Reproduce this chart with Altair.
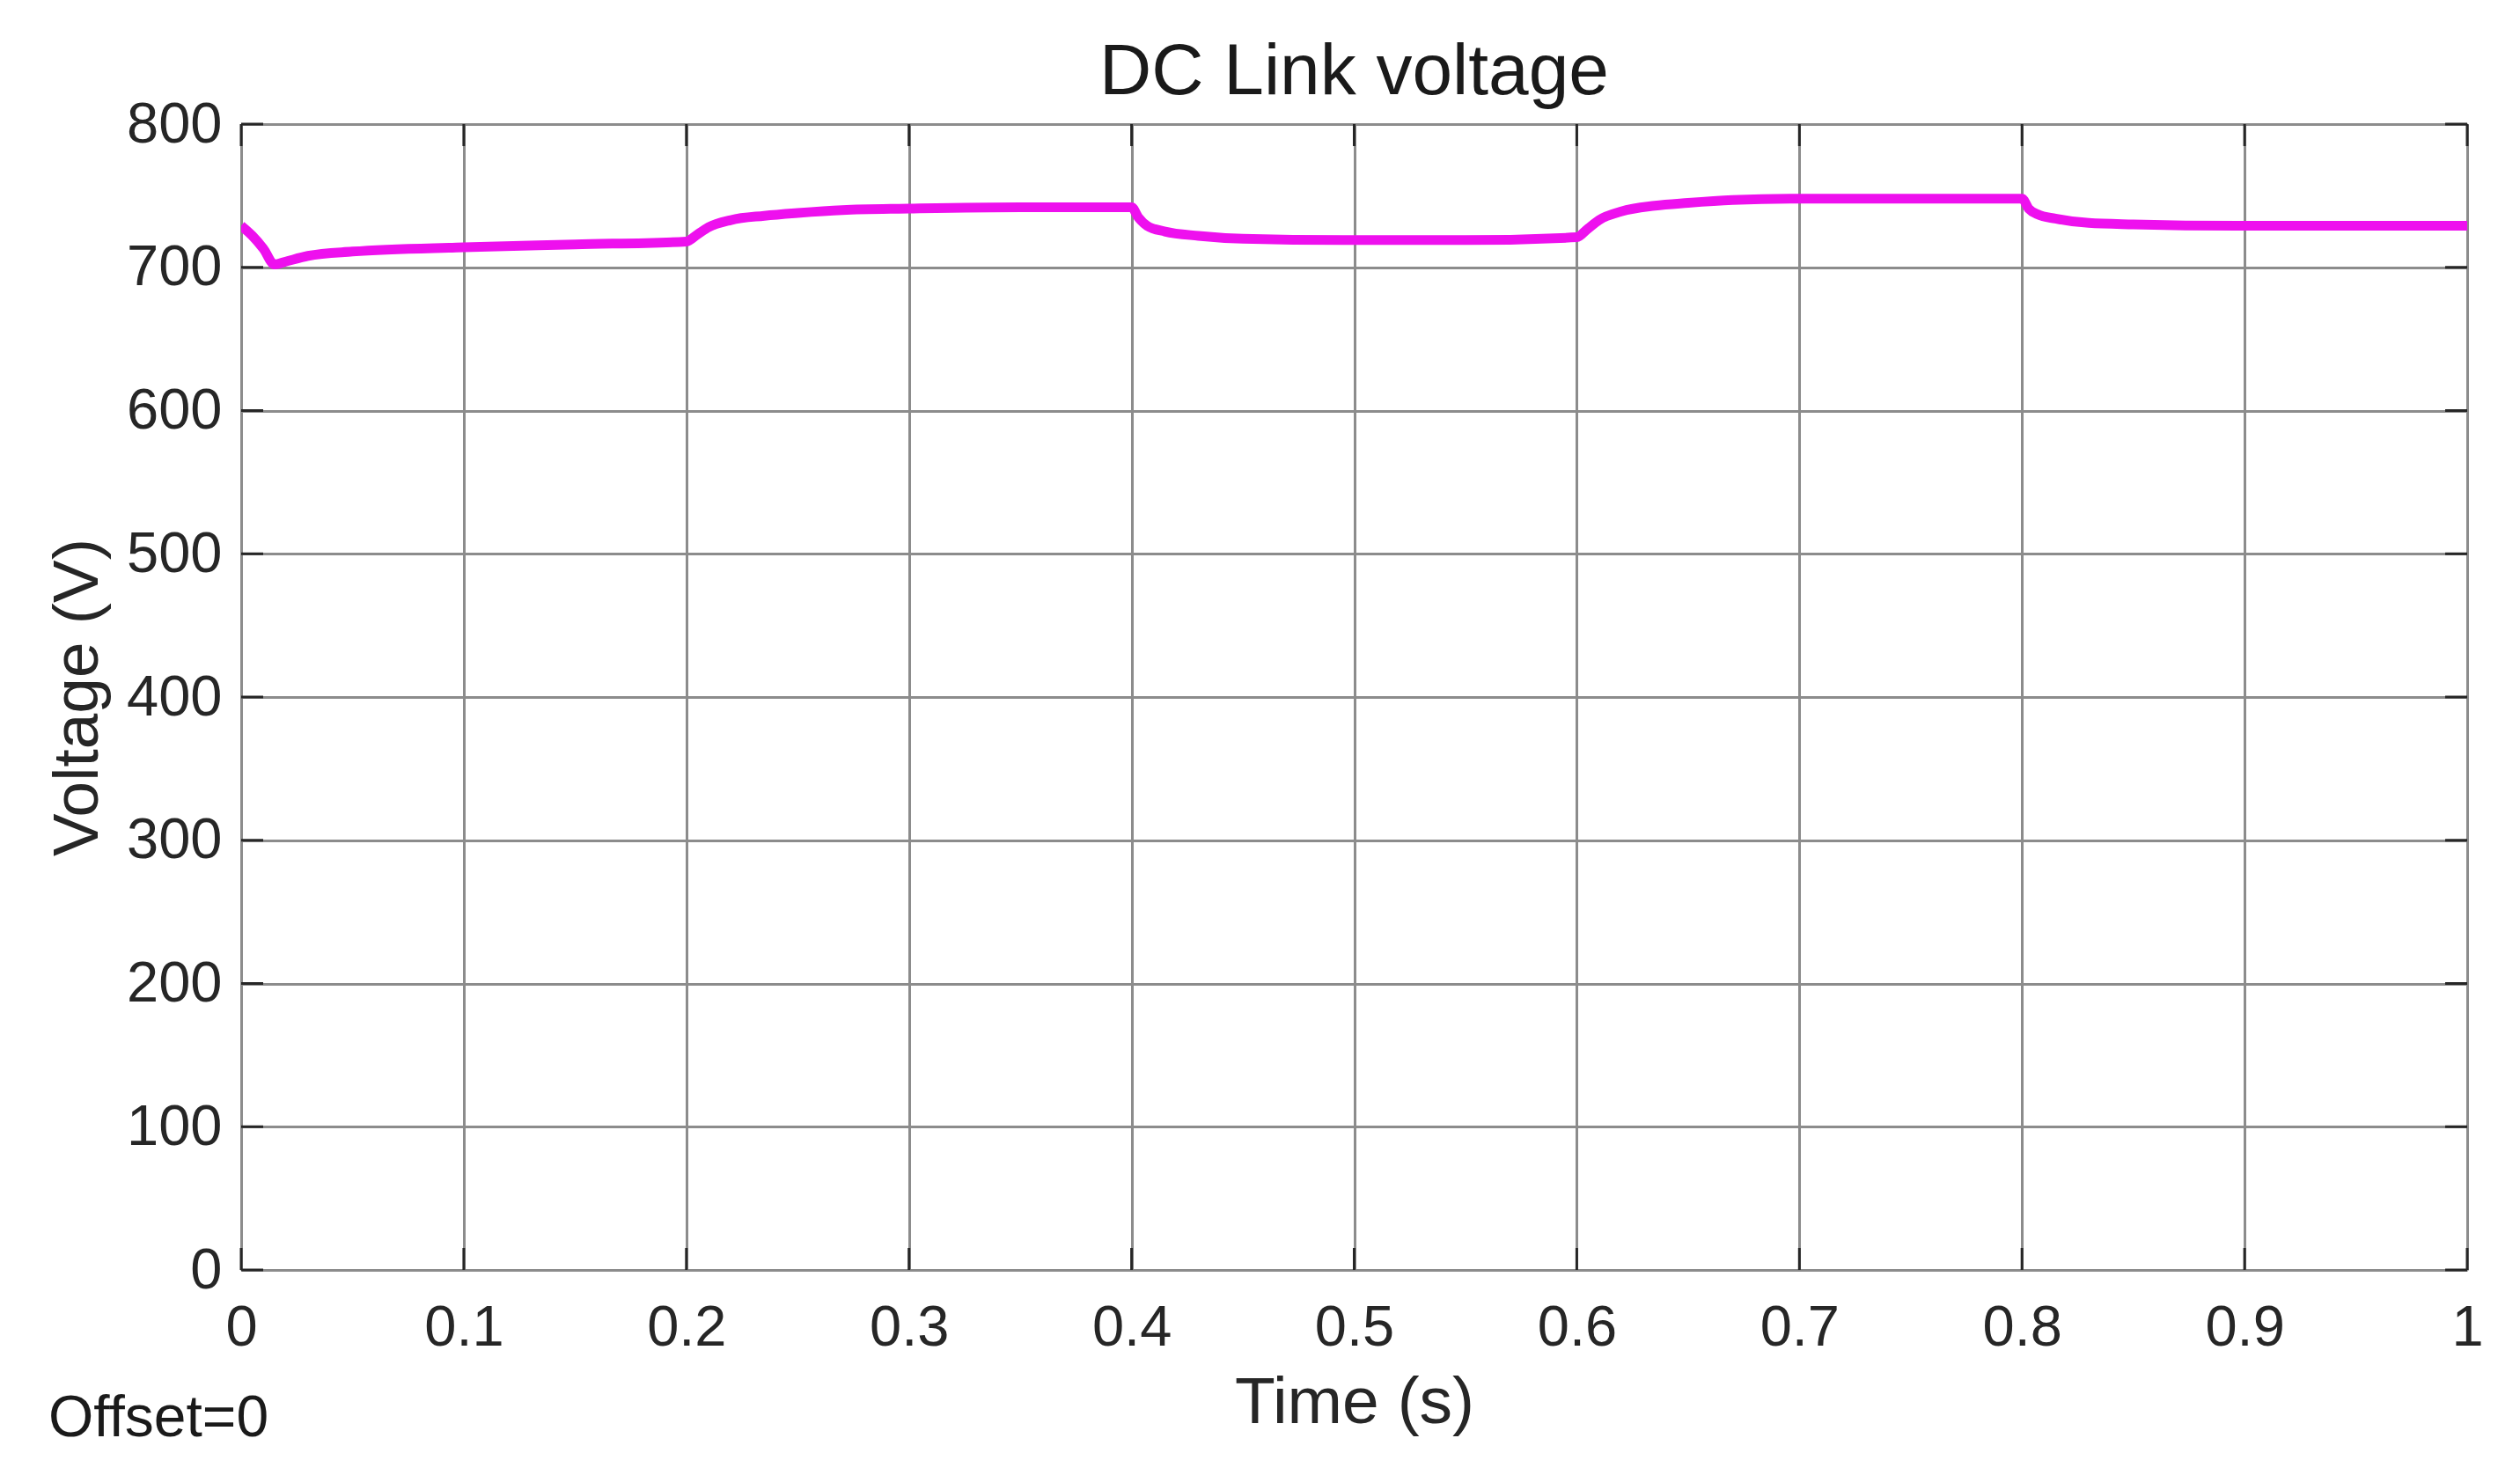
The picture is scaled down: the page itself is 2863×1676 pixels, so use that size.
import altair as alt
import pandas as pd

# Time (s) and DC link voltage (V)
time_s = [0.0, 0.005, 0.01, 0.015, 0.02, 0.03, 0.05, 0.1, 0.15, 0.2,
          0.205, 0.21, 0.22, 0.235, 0.25, 0.27, 0.3, 0.35, 0.4,
          0.403, 0.407, 0.415, 0.43, 0.45, 0.5, 0.55, 0.6,
          0.605, 0.61, 0.62, 0.635, 0.65, 0.67, 0.7, 0.75, 0.8,
          0.803, 0.807, 0.815, 0.83, 0.85, 0.9, 0.95, 1.0]
voltage = [729, 722, 713, 702, 704, 708, 711, 714, 716, 718,
           723, 728, 733, 736, 738, 740, 741, 742, 742,
           735, 729, 725, 722, 720, 719, 719, 721,
           727, 733, 739, 743, 745, 747, 748, 748, 748,
           741, 737, 734, 731, 730, 729, 729, 729]

x_ticks = [0, 0.1, 0.2, 0.3, 0.4, 0.5, 0.6, 0.7, 0.8, 0.9, 1.0]
y_ticks = [0, 100, 200, 300, 400, 500, 600, 700, 800]

df = pd.DataFrame({"t": time_s, "v": voltage})
xt_df = pd.DataFrame({"t": x_ticks})
yt_df = pd.DataFrame({"v": y_ticks})

FONT = "Liberation Sans"
W, H = 2529, 1302
TICK = 25
TICK_COLOR = "#262626"

x_axis = alt.Axis(values=x_ticks, format="~g", labelFontSize=65,
                  titleFontSize=75, labelPadding=34, titlePadding=16,
                  labelFlush=False,
                  ticks=False, labelFont=FONT, titleFont=FONT,
                  labelColor="#262626", titleColor="#262626",
                  titleFontWeight="normal", gridColor="#8c8c8c",
                  gridWidth=3, gridOpacity=1, domain=False)
y_axis = alt.Axis(values=y_ticks, labelFontSize=65,
                  titleFontSize=73, labelPadding=22, titlePadding=18,
                  ticks=False, labelFont=FONT, titleFont=FONT,
                  labelColor="#262626", titleColor="#262626",
                  titleFontWeight="normal", gridColor="#8c8c8c",
                  gridWidth=3, gridOpacity=1, domain=False)

x_enc = alt.X("t:Q", title="Time (s)",
              scale=alt.Scale(domain=[0, 1], nice=False, zero=False),
              axis=x_axis)
y_enc = alt.Y("v:Q", title="Voltage (V)",
              scale=alt.Scale(domain=[0, 800], nice=False),
              axis=y_axis)

line = alt.Chart(df).mark_line(
    color="#EE10EE", strokeWidth=11, interpolate="monotone", clip=True
).encode(x=x_enc, y=y_enc)

# inward tick marks on all four sides
tick_bottom = alt.Chart(xt_df).mark_rule(color=TICK_COLOR, strokeWidth=3).encode(
    x=x_enc, y=alt.value(H), y2=alt.value(H - TICK))
tick_top = alt.Chart(xt_df).mark_rule(color=TICK_COLOR, strokeWidth=3).encode(
    x=x_enc, y=alt.value(0), y2=alt.value(TICK))
tick_left = alt.Chart(yt_df).mark_rule(color=TICK_COLOR, strokeWidth=3).encode(
    y=y_enc, x=alt.value(0), x2=alt.value(TICK))
tick_right = alt.Chart(yt_df).mark_rule(color=TICK_COLOR, strokeWidth=3).encode(
    y=y_enc, x=alt.value(W - TICK), x2=alt.value(W))

offset_df = pd.DataFrame({"label": ["Offset=0"]})
offset_text = alt.Chart(offset_df).mark_text(
    font=FONT, fontSize=66, align="left", baseline="middle", color="#1a1a1a"
).encode(text="label:N", x=alt.value(-219), y=alt.value(1471))

chart = alt.layer(
    tick_bottom, tick_top, tick_left, tick_right, line, offset_text
).properties(
    width=W, height=H,
    title=alt.Title("DC Link voltage", fontSize=82, font=FONT,
                    fontWeight="normal", color="#1a1a1a", anchor="middle",
                    offset=-15),
    padding={"left": 266, "top": 133, "right": 40, "bottom": 225},
    autosize=alt.AutoSizeParams(type="none"),
).configure_view(
    stroke="#1a1a1a", strokeWidth=4
).configure(background="white")

chart.save("out.html", embed_options={"renderer": "svg", "actions": False})
